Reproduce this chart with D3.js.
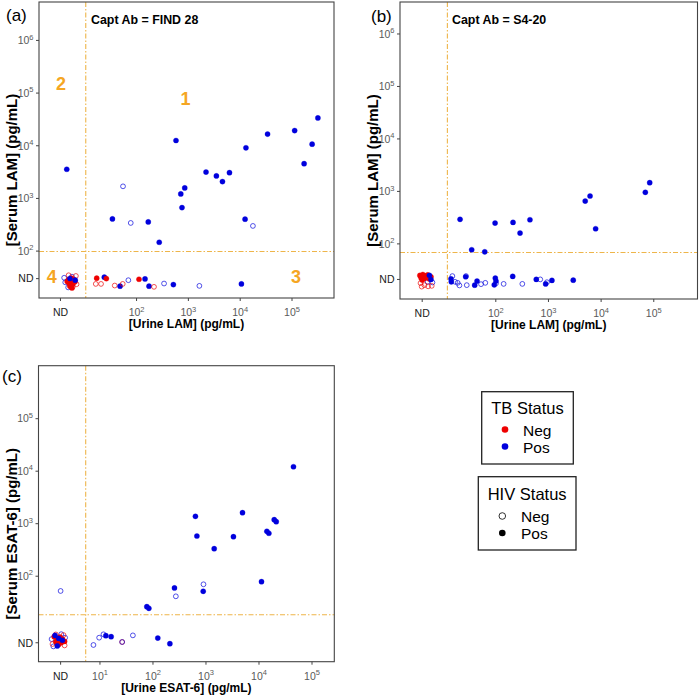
<!DOCTYPE html>
<html><head><meta charset="utf-8">
<script src="https://cdn.jsdelivr.net/npm/d3@7"></script>
<style>body{margin:0;background:#fff} text{font-family:"Liberation Sans",Arial,sans-serif}</style>
</head><body><svg id="chart" width="700" height="697"></svg>
<script>
// ---------- data ----------
// Each point: [x value, y value, TB status, HIV status]; "ND" points sit near the ND tick positions.
const P = "Pos", N = "Neg";
const ND = "ND";

const xTicksA = [ND, 1e2, 1e3, 1e4, 1e5];
const yTicksA = [ND, 1e2, 1e3, 1e4, 1e5, 1e6];
const xTicksB = [ND, 1e2, 1e3, 1e4, 1e5];
const yTicksB = [ND, 1e2, 1e3, 1e4, 1e5, 1e6];
const xTicksC = [ND, 1e1, 1e2, 1e3, 1e4, 1e5];
const yTicksC = [ND, 1e2, 1e3, 1e4, 1e5];

const dataA = [
  // ND / ND cluster
  [4.1,30.5,P,N],[4.9,20.0,P,N],[5.8,32,P,N],[4.3,25,P,N],
  [6.9,33,N,N],[6.5,27,N,N],[6.0,20.5,N,N],[5.0,34,N,N],[7.1,23,N,N],
  [5.0,28,N,P],[5.5,25,N,P],[6.0,23,N,P],[5.3,21,N,P],[6.2,28.5,N,P],[5.8,19.5,N,P],
  [5.1,24,N,P],[6.6,25.5,N,P],[4.7,26,N,P],[5.6,30,N,P],
  [5.3,29.5,P,P],[6.7,27.5,P,P],
  // serum ND row
  [17.4,29.9,N,P],[16.7,23.3,N,N],[21.1,23.3,N,N],[24.4,31.3,P,P],[26.7,29.4,N,P],
  [38.8,21.7,N,N],[49.1,21.1,P,P],[55.3,23.3,N,N],[71,27.4,P,N],[114,28.6,N,P],
  [149,29.0,P,P],[178,21.1,P,P],[222,20.5,N,N],[347,23.7,P,N],[525,22.6,P,P],
  [1667,21.4,P,N],[10800,23.3,P,P],
  // detected serum
  [4.6,3500,P,P],[590,12300,P,P],[35,400,P,P],[172,350,P,P],[280,144,P,P],
  [730,1190,P,P],[870,1550,P,P],[770,655,P,P],[2240,3100,P,P],[3550,2620,P,P],
  [4650,2040,P,P],[6350,3020,P,P],[13200,8950,P,P],[12700,395,P,P],[34500,16300,P,P],
  [115000,19000,P,P],[175000,4470,P,P],[250000,10500,P,P],[323000,33000,P,P],
  [56,1660,P,N],[79,335,P,N],[18000,294,P,N]
];

const dataB = [
  // ND / ND cluster
  [5.2,18.5,P,N],[6.4,18,P,N],
  [3.8,17.5,N,N],[4.5,16,N,N],[5.3,15.2,N,N],[6.2,15.5,N,N],[4.0,15,N,N],
  [3.7,24.5,N,P],[4.2,25.5,N,P],[4.7,24,N,P],[5.2,25,N,P],[3.9,22,N,P],[4.5,21.5,N,P],
  [5.0,22.5,N,P],[5.6,21,N,P],[4.1,20,N,P],[6.0,23,N,P],
  [5.6,24.6,P,P],[6.0,20.5,P,P],
  // serum ND row
  [15.3,23.8,P,N],[14.4,21.1,P,P],[14.6,18.5,P,P],[17.2,18.5,P,N],[19.3,17.7,P,N],
  [20.8,15.8,P,N],[27.4,23.1,P,P],[27.8,23.8,P,N],[28.7,16.0,P,N],[40.6,16.0,P,P],
  [45,19.1,P,P],[53.6,16.7,P,N],[64.6,17.7,P,N],[95.6,16.2,P,P],[100,21.8,P,P],
  [103,19.1,P,P],[103,17.3,P,N],[144,16.9,P,N],[214,23.5,P,P],[326,16.9,P,N],
  [600,20.6,P,P],[714,20.6,P,N],[904,16.9,P,P],[957,18.2,P,N],[1190,19.7,P,P],[3020,19.9,P,P],
  // detected serum
  [21.4,287,P,P],[99,244,P,P],[217,251,P,P],[455,282,P,P],[295,157,P,P],
  [35.6,75.6,P,P],[63,69,P,P],[5100,641,P,P],[6300,800,P,P],[8040,190,P,P],
  [70700,940,P,P],[85600,1435,P,P]
];

const dataC = [
  // ND / ND cluster
  [1.25,6.2,P,N],[1.9,7.7,P,N],[2.25,6.6,P,N],[1.35,4.5,P,N],
  [1.3,5.0,N,N],[2.2,4.7,N,N],[1.5,7.6,N,N],[2.1,7.4,N,N],
  [1.4,6.9,N,P],[1.6,6.0,N,P],[1.8,6.8,N,P],[2.0,6.2,N,P],[1.5,5.5,N,P],[1.9,5.3,N,P],
  [2.2,5.6,N,P],[1.7,4.9,N,P],
  [1.45,7.3,P,P],[1.7,6.4,P,P],[1.6,4.6,P,P],[2.0,5.9,P,P],
  // serum ND row
  [7.7,4.79,P,N],[9.87,6.6,P,N],[11.9,7.65,P,N],[13.2,7.2,P,P],[16.6,6.9,P,P],
  [26.8,5.46,N,N],[26.8,5.46,P,N],[42.7,7.3,P,N],[126,6.5,P,P],[213,5.07,P,P],
  // detected serum
  [1.85,51.2,P,N],[276,40.5,P,N],[917,68.6,P,N],
  [45700,11900,P,P],[646,1350,P,P],[689,570,P,P],[1460,327,P,P],[3370,553,P,P],
  [4990,1585,P,P],[14400,700,P,P],[15700,643,P,P],[19800,1166,P,P],[21600,1069,P,P],
  [11400,77,P,P],[260,58.4,P,P],[906,50.5,P,P],[78.3,25.7,P,P],[85.5,23.9,P,P]
];

const quadrantLabels = ["1","2","3","4"];
const quadrantPos = [[900,76000],[3.57,151000],[122000,31.7],[2.36,31.7]];
const tbLevels = ["Neg","Pos"];
const hivLevels = ["Neg","Pos"];

// ---------- styles ----------
const tbColor = {Neg:"#EE0000", Pos:"#0000DD"};
const orange = "#F5A623";
const dashCol = "#EEB54A";

const panels = [
  {frame:[39,2,334,298], xDom:[10**0.127,10**5.82], yDom:[10**1.10,10**6.72],
   xTicks:xTicksA, yTicks:yTicksA, ndX:3.4, ndY:30, thrX:10.7, thrY:96, data:dataA,
   title:"Capt Ab = FIND 28", tag:"(a)", tagPos:[6,21],
   xTitle:"[Urine LAM] (pg/mL)", yTitle:"[Serum LAM] (pg/mL)", quad:true},
  {frame:[400,2,697.5,299], xDom:[10**0.19,10**5.84], yDom:[10**0.94,10**6.6],
   xTicks:xTicksB, yTicks:yTicksB, ndX:4.0, ndY:21, thrX:12.3, thrY:67, data:dataB,
   title:"Capt Ab = S4-20", tag:"(b)", tagPos:[371,22],
   xTitle:"[Urine LAM] (pg/mL)", yTitle:"[Serum LAM] (pg/mL)", quad:false},
  {frame:[38.5,365.7,334.3,661.7], xDom:[10**-0.15,10**5.43], yDom:[10**0.362,10**6.0],
   xTicks:xTicksC, yTicks:yTicksC, ndX:1.81, ndY:5.4, thrX:5.5, thrY:18, data:dataC,
   title:null, tag:"(c)", tagPos:[2,382],
   xTitle:"[Urine ESAT-6] (pg/mL)", yTitle:"[Serum ESAT-6] (pg/mL)", quad:false}
];

const svg = d3.select("#chart");
svg.append("rect").attr("width",700).attr("height",697).attr("fill","#fff");

function labelTick(sel, v){
  sel.text(null);
  if (v === ND) {
    sel.append("tspan").text("ND").attr("fill","#222");
  } else {
    const e = Math.round(Math.log10(v));
    sel.append("tspan").text("10").attr("fill","#5a5a5a");
    sel.append("tspan").text(e).attr("dy",-4.5).attr("font-size",7.5).attr("fill","#5a5a5a");
  }
}

panels.forEach(p => {
  const [l,t,r,b] = p.frame;
  const x = d3.scaleLog().domain(p.xDom).range([l,r]);
  const y = d3.scaleLog().domain(p.yDom).range([b,t]);
  const xv = v => v === ND ? p.ndX : v;
  const yv = v => v === ND ? p.ndY : v;
  const g = svg.append("g");

  // threshold lines
  g.append("line").attr("x1",x(p.thrX)).attr("x2",x(p.thrX)).attr("y1",t).attr("y2",b)
    .attr("stroke",dashCol).attr("stroke-width",1.1).attr("stroke-dasharray","5,2,1.5,2");
  g.append("line").attr("x1",l).attr("x2",r).attr("y1",y(p.thrY)).attr("y2",y(p.thrY))
    .attr("stroke",dashCol).attr("stroke-width",1.1).attr("stroke-dasharray","5,2,1.5,2");

  // points
  g.selectAll("circle.pt").data(p.data).join("circle").attr("class","pt")
    .attr("cx",d=>x(d[0])).attr("cy",d=>y(d[1]))
    .attr("r",d=>d[3]===P?2.6:2.4)
    .attr("fill",d=>d[3]===P?tbColor[d[2]]:"none")
    .attr("stroke",d=>tbColor[d[2]])
    .attr("stroke-width",d=>d[3]===P?0.3:0.8)
    .attr("opacity",d=>d[3]===P?1:0.85);

  // frame
  g.append("rect").attr("x",l).attr("y",t).attr("width",r-l).attr("height",b-t)
    .attr("fill","none").attr("stroke","#444").attr("stroke-width",1.1);

  // axes
  const ax = g.append("g").attr("transform",`translate(0,${b})`)
    .call(d3.axisBottom(x).tickValues(p.xTicks.map(xv)).tickSize(3).tickSizeOuter(0));
  ax.select(".domain").remove();
  ax.selectAll(".tick line").attr("stroke","#444");
  ax.selectAll(".tick text").each(function(d,i){
    const s = d3.select(this).attr("font-size",10.5).attr("y",18).attr("dy",0);
    labelTick(s, p.xTicks[i]);
  });
  const ay = g.append("g").attr("transform",`translate(${l},0)`)
    .call(d3.axisLeft(y).tickValues(p.yTicks.map(yv)).tickSize(3).tickSizeOuter(0));
  ay.select(".domain").remove();
  ay.selectAll(".tick line").attr("stroke","#444");
  ay.selectAll(".tick text").each(function(d,i){
    const s = d3.select(this).attr("font-size",10.5).attr("x",-5.5).attr("dy","0.36em");
    labelTick(s, p.yTicks[i]);
  });

  // axis titles
  g.append("text").attr("x",(l+r)/2).attr("y",b+30).attr("text-anchor","middle")
    .attr("font-weight","bold").attr("font-size",12).text(p.xTitle);
  g.append("text").attr("transform",`translate(${l-22},${(t+b)/2+20}) rotate(-90)`)
    .attr("text-anchor","middle").attr("font-weight","bold").attr("font-size",15).text(p.yTitle);

  // panel title + tag
  if (p.title) g.append("text").attr("x",l+52).attr("y",t+22).attr("font-weight","bold")
    .attr("font-size",12.4).text(p.title);
  g.append("text").attr("x",p.tagPos[0]).attr("y",p.tagPos[1]).attr("font-size",17).text(p.tag);

  if (p.quad) {
    g.selectAll("text.quad").data(quadrantLabels).join("text").attr("class","quad")
      .attr("x",(d,i)=>x(quadrantPos[i][0])).attr("y",(d,i)=>y(quadrantPos[i][1]))
      .attr("text-anchor","middle").attr("dy","0.36em")
      .attr("font-weight","bold").attr("font-size",18).attr("fill",orange).text(d=>d);
  }
});

// ---------- legends ----------
function legend(box, title, levels, styleFn, titleY, rowY, dotX, textX){
  const g = svg.append("g");
  g.append("rect").attr("x",box[0]).attr("y",box[1]).attr("width",box[2]-box[0]).attr("height",box[3]-box[1])
    .attr("fill","#fff").attr("stroke","#222").attr("stroke-width",1.3);
  g.append("text").attr("x",(box[0]+box[2])/2).attr("y",titleY).attr("text-anchor","middle")
    .attr("font-size",16.5).text(title);
  levels.forEach((lv,i)=>{
    const cy = rowY[i];
    const c = g.append("circle").attr("cx",dotX).attr("cy",cy).attr("r",3.3);
    styleFn(c, lv);
    g.append("text").attr("x",textX).attr("y",cy+6).attr("font-size",15.5).text(lv);
  });
}
legend([481.7,391.7,573.3,464], "TB Status", tbLevels,
  (c,lv)=>c.attr("fill",tbColor[lv]), 413.5, [429.5,446.5], 505, 523);
legend([478.3,476.7,576,550], "HIV Status", hivLevels,
  (c,lv)=>c.attr("fill",lv==="Pos"?"#000":"none").attr("stroke","#000").attr("stroke-width",lv==="Pos"?0:0.8),
  500, [516,533], 502.3, 521);
</script></body></html>
